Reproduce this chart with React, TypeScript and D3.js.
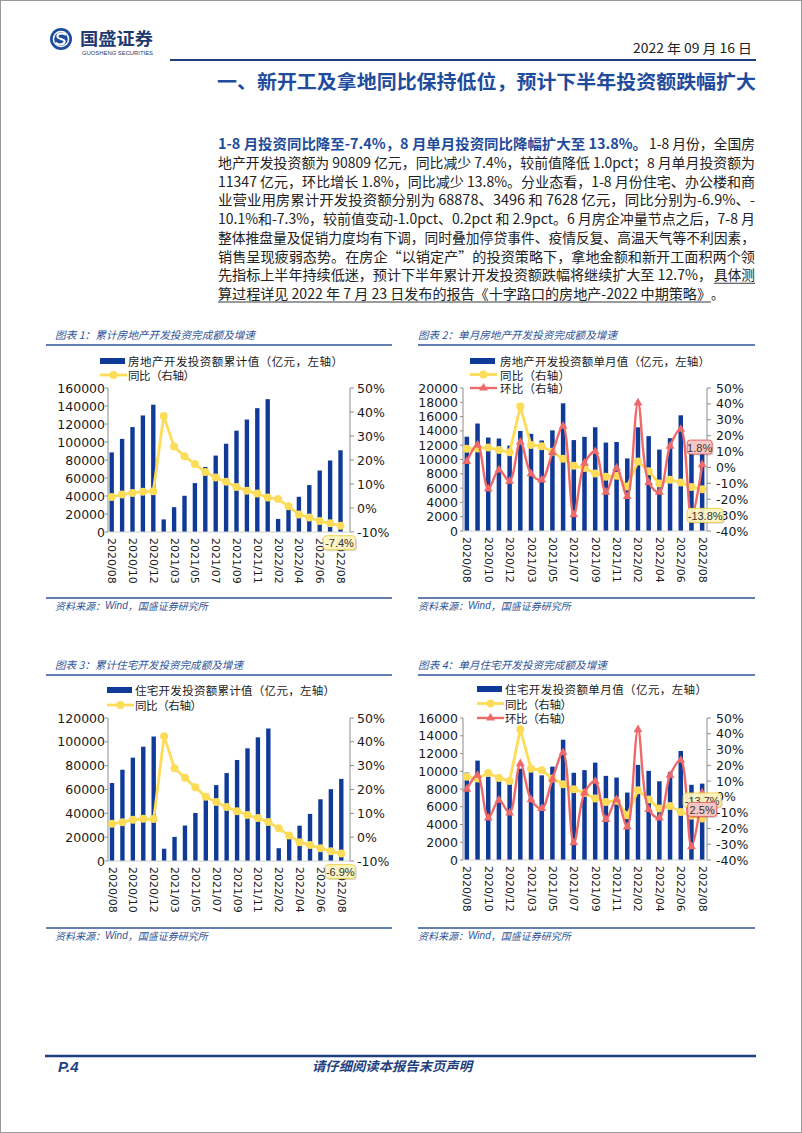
import React from 'react';
import * as d3 from 'd3';

// ---------------- DATA ----------------
const categories = [
  '2020/08', '2020/09', '2020/10', '2020/11', '2020/12',
  '2021/02', '2021/03', '2021/04', '2021/05', '2021/06', '2021/07', '2021/08',
  '2021/09', '2021/10', '2021/11', '2021/12',
  '2022/02', '2022/03', '2022/04', '2022/05', '2022/06', '2022/07', '2022/08',
];
const tickLabels = categories.filter((_, i) => i % 2 === 0);

// Chart 1: cumulative real estate development investment (亿元) & YoY (%)
const cumInvest = [88454, 103484, 116556, 129492, 141443, 13986, 27576, 40240, 54318, 72179, 84895, 98060, 112568, 124934, 137567, 147602, 14499, 27765, 39154, 52134, 68314, 79462, 90809];
const cumInvestYoY = [4.6, 5.6, 6.3, 6.8, 7.0, 38.3, 25.6, 21.6, 18.3, 15.0, 12.7, 10.9, 8.8, 7.2, 6.0, 4.4, 3.7, 0.7, -2.7, -4.0, -5.4, -6.4, -7.4];

// Chart 2: monthly real estate development investment, YoY and MoM (%)
const monthInvest = [13190, 15030, 13072, 12936, 11951, 13986, 13590, 12664, 14078, 17861, 12716, 13165, 14508, 12366, 12450, 10150, 14499, 13266, 11389, 12980, 16180, 11148, 11347];
const monthInvestYoY = [11.8, 12.0, 12.5, 11.0, 9.5, 38.3, 14.1, 13.4, 9.8, 5.4, 1.0, -0.4, -3.8, -5.9, -5.2, -12.0, 3.7, -2.4, -10.1, -7.8, -9.4, -12.3, -13.8];
const monthInvestMoM = [3.8, 14.2, -13.5, -1.6, -8.6, 16.0, -4.0, -7.8, 9.4, 26.0, -29.8, 2.7, 10.0, -15.6, -0.4, -18.3, 40.6, -9.4, -15.6, 13.4, 24.0, -31.1, 1.8];

// Chart 3: cumulative residential development investment & YoY
const cumResi = [65454, 76584, 86700, 95900, 104446, 10295, 20233, 29775, 40292, 53845, 63672, 73801, 84769, 94553, 103764, 111173, 10717, 20761, 29630, 39521, 51804, 60273, 68878];
const cumResiYoY = [5.6, 6.3, 7.3, 7.7, 7.6, 42.3, 28.9, 24.9, 20.9, 17.0, 14.8, 12.7, 10.9, 9.3, 8.0, 6.4, 3.7, 0.7, -2.1, -3.3, -4.6, -5.9, -6.9];

// Chart 4: monthly residential development investment, YoY and MoM
const monthResi = [9850, 11200, 9400, 9600, 8900, 10295, 9938, 9542, 10517, 13553, 9827, 10129, 10968, 9480, 9290, 7600, 10717, 10044, 8869, 9891, 12283, 8469, 8605];
const monthResiYoY = [12.7, 11.6, 15.2, 12.0, 10.1, 42.8, 17.9, 16.9, 11.6, 8.0, 4.9, 2.5, -1.1, -3.2, -2.5, -11.6, 4.2, -1.7, -7.4, -5.7, -9.5, -12.0, -13.7];
const monthResiMoM = [4.9, 13.7, -13.3, -2.1, -10.1, 21.1, -1.7, -7.4, 11.2, 28.1, -29.1, 2.5, 9.9, -14.3, -1.7, -19.0, 42.6, -8.0, -13.3, 13.7, 23.2, -31.6, 2.5];

// ---------------- STYLE ----------------
const BAR = '#0F3A97';
const YEL = '#FCDC58';
const RED = '#EE6A6A';
const NAVY = '#1F3F7F';
const TBLUE = '#2F5597';
const CN = '"Noto Sans CJK SC", "Noto Sans", sans-serif';
const NUM = '"DejaVu Sans", sans-serif';
const LAT = '"Liberation Sans", Arial, sans-serif';

type Callout = { series: 'yoy' | 'mom'; dx: number; dy: number; w: number };
type Cfg = {
  title: string; titleX: number; titleY: number; titleW: number;
  ruleX0: number; ruleX1: number; ruleTopY: number; ruleBotY: number;
  sourceX: number; sourceY: number;
  legendX: number; legendTextX: number; legendYs: number[]; legendLabels: string[]; legendWs: number[];
  plotTop: number; plotBottom: number; bandX0: number; bandX1: number;
  leftAxisX: number; rightAxisX: number; leftLabelX: number; rightLabelX: number;
  leftMax: number; leftStep: number; rightMin: number; rightMax: number;
  bars: number[]; yoy: number[]; mom?: number[];
  callouts: Callout[];
};

function Chart({ c }: { c: Cfg }) {
  const x = d3.scaleBand<string>().domain(categories).range([c.bandX0, c.bandX1]).paddingInner(0.58).paddingOuter(0.29);
  const cx = (i: number) => (x(categories[i]) as number) + x.bandwidth() / 2;
  const yL = d3.scaleLinear().domain([0, c.leftMax]).range([c.plotBottom, c.plotTop]);
  const yR = d3.scaleLinear().domain([c.rightMin, c.rightMax]).range([c.plotBottom, c.plotTop]);
  const straight = d3.line<number>().x((_, i) => cx(i)).y((d) => yR(d));
  const smooth = d3.line<number>().x((_, i) => cx(i)).y((d) => yR(d)).curve(d3.curveCatmullRom.alpha(0.5));
  const tri = d3.symbol().type(d3.symbolTriangle).size(34)() as string;
  const leftTicks = d3.range(0, c.leftMax + 1, c.leftStep);
  const rightTicks = d3.range(c.rightMin, c.rightMax + 1, 10);
  const last = categories.length - 1;

  return (
    <g>
      {/* title & rules */}
      <text x={c.titleX} y={c.titleY} fontFamily={CN} fontSize={10.5} fontStyle="italic" fill={TBLUE}
        textLength={c.titleW} lengthAdjust="spacingAndGlyphs" dominantBaseline="central">{c.title}</text>
      <line x1={c.ruleX0} x2={c.ruleX1} y1={c.ruleTopY} y2={c.ruleTopY} stroke={TBLUE} strokeWidth={1.5} />
      <line x1={c.ruleX0} x2={c.ruleX1} y1={c.ruleBotY} y2={c.ruleBotY} stroke={TBLUE} strokeWidth={1.5} />
      <text x={c.sourceX} y={c.sourceY} fontFamily={CN} fontSize={10} fontStyle="italic" fill={TBLUE}
        dominantBaseline="central">资料来源：<tspan fontFamily={LAT}>Wind</tspan>，国盛证券研究所</text>

      {/* bars */}
      {c.bars.map((v, i) => (
        <rect key={'b' + i} x={x(categories[i])} y={yL(v)} width={x.bandwidth()} height={yL(0) - yL(v)} fill={BAR} />
      ))}

      {/* axes */}
      <line x1={c.leftAxisX} x2={c.leftAxisX} y1={c.plotTop} y2={c.plotBottom} stroke="#8c8c8c" strokeWidth={1} />
      <line x1={c.rightAxisX} x2={c.rightAxisX} y1={c.plotTop} y2={c.plotBottom} stroke="#8c8c8c" strokeWidth={1} />
      <line x1={c.leftAxisX} x2={c.rightAxisX} y1={c.plotBottom} y2={c.plotBottom} stroke="#d0d0d0" strokeWidth={1} />
      {leftTicks.map((t) => (
        <g key={'lt' + t}>
          <line x1={c.leftAxisX - 3} x2={c.leftAxisX} y1={yL(t)} y2={yL(t)} stroke="#8c8c8c" />
          <text x={c.leftLabelX} y={yL(t)} textAnchor="end" dominantBaseline="central" fontFamily={NUM} fontSize={12.5} fill="#1a1a1a">{t}</text>
        </g>
      ))}
      {rightTicks.map((t) => (
        <g key={'rt' + t}>
          <line x1={c.rightAxisX} x2={c.rightAxisX + 4} y1={yR(t)} y2={yR(t)} stroke="#8c8c8c" />
          <text x={c.rightLabelX} y={yR(t)} dominantBaseline="central" fontFamily={NUM} fontSize={12.5} fill="#1a1a1a">{t}%</text>
        </g>
      ))}
      {tickLabels.map((lab) => {
        const i = categories.indexOf(lab);
        const px = cx(i);
        const py = c.plotBottom + 6;
        return (
          <text key={'xl' + lab} x={px} y={py} transform={`rotate(90 ${px} ${py})`} dominantBaseline="central"
            fontFamily={NUM} fontSize={11} fill="#1a1a1a">{lab}</text>
        );
      })}

      {/* yoy line */}
      <path d={straight(c.yoy) as string} fill="none" stroke={YEL} strokeWidth={2.8} strokeLinejoin="round" />
      {c.yoy.map((v, i) => <circle key={'y' + i} cx={cx(i)} cy={yR(v)} r={4} fill={YEL} />)}

      {/* mom line */}
      {c.mom && <path d={smooth(c.mom) as string} fill="none" stroke={RED} strokeWidth={2.4} strokeLinejoin="round" />}
      {c.mom && c.mom.map((v, i) => (
        <path key={'m' + i} d={tri} transform={`translate(${cx(i)},${yR(v)})`} fill={RED} />
      ))}

      {/* legend */}
      {c.legendLabels.map((lab, k) => {
        const ly = c.legendYs[k];
        return (
          <g key={'lg' + k}>
            {k === 0 && <rect x={c.legendX} y={ly - 3} width={25} height={6} fill={BAR} />}
            {k === 1 && (
              <g>
                <line x1={c.legendX} x2={c.legendX + 27} y1={ly} y2={ly} stroke={YEL} strokeWidth={2.8} />
                <circle cx={c.legendX + 13.5} cy={ly} r={4} fill={YEL} />
              </g>
            )}
            {k === 2 && (
              <g>
                <line x1={c.legendX} x2={c.legendX + 27} y1={ly} y2={ly} stroke={RED} strokeWidth={2.4} />
                <path d={tri} transform={`translate(${c.legendX + 13.5},${ly})`} fill={RED} />
              </g>
            )}
            <text x={c.legendTextX} y={ly} dominantBaseline="central" fontFamily={CN} fontSize={11.5} fill="#1a1a1a"
              textLength={c.legendWs[k]} lengthAdjust="spacing">{lab}</text>
          </g>
        );
      })}

      {/* callouts */}
      {c.callouts.map((co, k) => {
        const series = co.series === 'yoy' ? c.yoy : (c.mom as number[]);
        const v = series[last];
        const bx = cx(last) + co.dx;
        const by = yR(v) + co.dy;
        const yel = co.series === 'yoy';
        return (
          <g key={'co' + k}>
            <rect x={bx - co.w / 2 + 1.5} y={by - 7 + 1.5} width={co.w} height={14} rx={3} fill="#000" opacity={0.15} />
            <rect x={bx - co.w / 2} y={by - 7} width={co.w} height={14} rx={3}
              fill={yel ? '#FFF7C4' : '#F8C8C6'} fillOpacity={yel ? 0.92 : 1} stroke={yel ? '#F0D24A' : '#E46A6A'} strokeWidth={1} />
            <text x={bx} y={by + 0.5} textAnchor="middle" dominantBaseline="central" fontFamily={LAT} fontSize={11} fill="#333">
              {`${v.toFixed(1)}%`}
            </text>
          </g>
        );
      })}
    </g>
  );
}

const chart1: Cfg = {
  title: '图表 1：累计房地产开发投资完成额及增速', titleX: 55, titleY: 334, titleW: 200,
  ruleX0: 46, ruleX1: 392, ruleTopY: 345, ruleBotY: 598, sourceX: 55, sourceY: 605,
  legendX: 100, legendTextX: 128, legendYs: [361, 375],
  legendLabels: ['房地产开发投资额累计值（亿元，左轴）', '同比（右轴）'], legendWs: [215, 67],
  plotTop: 388, plotBottom: 532, bandX0: 106.5, bandX1: 345.7,
  leftAxisX: 108, rightAxisX: 350, leftLabelX: 105, rightLabelX: 357,
  leftMax: 160000, leftStep: 20000, rightMin: -10, rightMax: 50,
  bars: cumInvest, yoy: cumInvestYoY,
  callouts: [{ series: 'yoy', dx: -1, dy: 17, w: 32 }],
};

const chart2: Cfg = {
  title: '图表 2：单月房地产开发投资完成额及增速', titleX: 418, titleY: 334, titleW: 199,
  ruleX0: 418, ruleX1: 755, ruleTopY: 345, ruleBotY: 598, sourceX: 418, sourceY: 605,
  legendX: 470, legendTextX: 500, legendYs: [361, 374.5, 388],
  legendLabels: ['房地产开发投资额单月值（亿元，左轴）', '同比（右轴）', '环比（右轴）'], legendWs: [210, 70, 70],
  plotTop: 388, plotBottom: 531, bandX0: 461.5, bandX1: 707.5,
  leftAxisX: 463, rightAxisX: 707, leftLabelX: 458, rightLabelX: 716,
  leftMax: 20000, leftStep: 2000, rightMin: -40, rightMax: 50,
  bars: monthInvest, yoy: monthInvestYoY, mom: monthInvestMoM,
  callouts: [
    { series: 'yoy', dx: 3, dy: 26, w: 36 },
    { series: 'mom', dx: -2.5, dy: -17.5, w: 25 },
  ],
};

const chart3: Cfg = {
  title: '图表 3：累计住宅开发投资完成额及增速', titleX: 55, titleY: 664, titleW: 188,
  ruleX0: 46, ruleX1: 392, ruleTopY: 675, ruleBotY: 928, sourceX: 55, sourceY: 935,
  legendX: 107, legendTextX: 135, legendYs: [690, 705],
  legendLabels: ['住宅开发投资额累计值（亿元，左轴）', '同比（右轴）'], legendWs: [200, 67],
  plotTop: 718, plotBottom: 861, bandX0: 106.8, bandX1: 346.5,
  leftAxisX: 108, rightAxisX: 350, leftLabelX: 105, rightLabelX: 357,
  leftMax: 120000, leftStep: 20000, rightMin: -10, rightMax: 50,
  bars: cumResi, yoy: cumResiYoY,
  callouts: [{ series: 'yoy', dx: -1, dy: 18, w: 30 }],
};

const chart4: Cfg = {
  title: '图表 4：单月住宅开发投资完成额及增速', titleX: 418, titleY: 664, titleW: 189,
  ruleX0: 418, ruleX1: 755, ruleTopY: 675, ruleBotY: 928, sourceX: 418, sourceY: 935,
  legendX: 477, legendTextX: 505, legendYs: [689, 703.5, 718],
  legendLabels: ['住宅开发投资额单月值（亿元，左轴）', '同比（右轴）', '环比（右轴）'], legendWs: [202, 67, 67],
  plotTop: 718, plotBottom: 860, bandX0: 461.5, bandX1: 707.5,
  leftAxisX: 463, rightAxisX: 707, leftLabelX: 458, rightLabelX: 716,
  leftMax: 16000, leftStep: 2000, rightMin: -40, rightMax: 50,
  bars: monthResi, yoy: monthResiYoY, mom: monthResiMoM,
  callouts: [
    { series: 'yoy', dx: 0, dy: -18.5, w: 38 },
    { series: 'mom', dx: 0, dy: 16.5, w: 29 },
  ],
};

// ---------------- BODY TEXT ----------------
type Seg = { t: string; x0: number; x1: number; bold?: boolean; ul?: boolean };
const bodyLines: Seg[][] = [
  [
    { t: '1-8 月投资同比降至-7.4%，8 月单月投资同比降幅扩大至 13.8%。', x0: 218, x1: 647, bold: true },
    { t: '1-8 月份，全国房', x0: 649, x1: 755 },
  ],
  [{ t: '地产开发投资额为 90809 亿元，同比减少 7.4%，较前值降低 1.0pct；8 月单月投资额为', x0: 218, x1: 755 }],
  [{ t: '11347 亿元，环比增长 1.8%，同比减少 13.8%。分业态看，1-8 月份住宅、办公楼和商', x0: 218, x1: 755 }],
  [{ t: '业营业用房累计开发投资额分别为 68878、3496 和 7628 亿元，同比分别为-6.9%、-', x0: 218, x1: 755 }],
  [{ t: '10.1%和-7.3%，较前值变动-1.0pct、0.2pct 和 2.9pct。6 月房企冲量节点之后，7-8 月', x0: 218, x1: 755 }],
  [{ t: '整体推盘量及促销力度均有下调，同时叠加停贷事件、疫情反复、高温天气等不利因素，', x0: 218, x1: 755 }],
  [{ t: '销售呈现疲弱态势。在房企“以销定产”的投资策略下，拿地金额和新开工面积两个领', x0: 218, x1: 755 }],
  [
    { t: '先指标上半年持续低迷，预计下半年累计开发投资额跌幅将继续扩大至 12.7%，', x0: 218, x1: 712 },
    { t: '具体测', x0: 714, x1: 755, ul: true },
  ],
  [
    { t: '算过程详见 2022 年 7 月 23 日发布的报告《十字路口的房地产-2022 中期策略》', x0: 218, x1: 711, ul: true },
    { t: '。', x0: 711, x1: 724 },
  ],
];

function Body() {
  return (
    <g>
      {bodyLines.map((segs, li) => {
        const by = 149 + li * 18.75;
        return segs.map((s, si) => (
          <g key={`bl${li}-${si}`}>
            <text x={s.x0} y={by} fontFamily={CN} fontSize={14} fontWeight={s.bold ? 700 : 400}
              fill={s.bold ? '#1F4C9C' : '#222'} textLength={s.x1 - s.x0} lengthAdjust="spacingAndGlyphs">{s.t}</text>
            {s.ul && <line x1={s.x0} x2={s.x1} y1={by + 3} y2={by + 3} stroke="#222" strokeWidth={0.9} />}
          </g>
        ));
      })}
    </g>
  );
}

function Header() {
  return (
    <g>
      {/* logo */}
      <circle cx={61} cy={39} r={11} fill="#1E4DA0" />
      <circle cx={61} cy={39} r={8.3} fill="#fff" />
      <circle cx={61} cy={39} r={6.8} fill="#1E4DA0" />
      <path d="M65.5 34.5 C62 32.5 56.5 33.5 57.5 37 C58.3 39.6 64.5 38.6 64.6 41.5 C64.7 44.6 59 45.3 56.4 43.2"
        fill="none" stroke="#fff" strokeWidth={2.1} strokeLinecap="round" />
      <text x={80} y={45} fontFamily={CN} fontWeight={700} fontSize={17} fill="#1E3A70" textLength={73} lengthAdjust="spacingAndGlyphs">国盛证券</text>
      <text x={82} y={54.5} fontFamily={LAT} fontSize={4.6} fill="#1E3A70" textLength={71} lengthAdjust="spacingAndGlyphs">GUOSHENG SECURITIES</text>
      <text x={633} y={53} fontFamily={CN} fontSize={13} fill="#222" textLength={119} lengthAdjust="spacingAndGlyphs">2022 年 09 月 16 日</text>
      <line x1={170} x2={756} y1={60} y2={60} stroke={NAVY} strokeWidth={2} />
      <text x={217} y={89} fontFamily={CN} fontWeight={700} fontSize={19} fill="#1F4C9C" textLength={539} lengthAdjust="spacingAndGlyphs">
        一、新开工及拿地同比保持低位，预计下半年投资额跌幅扩大
      </text>
    </g>
  );
}

function Footer() {
  return (
    <g>
      <line x1={45} x2={756} y1={1056} y2={1056} stroke={NAVY} strokeWidth={2.5} />
      <text x={58} y={1072} fontFamily={LAT} fontWeight={700} fontStyle="italic" fontSize={15} fill={NAVY}>P.4</text>
      <text x={312} y={1071} fontFamily={CN} fontWeight={700} fontStyle="italic" fontSize={13} fill={NAVY}
        textLength={160} lengthAdjust="spacingAndGlyphs">请仔细阅读本报告末页声明</text>
    </g>
  );
}

export default function App() {
  return (
    <svg width={802} height={1133} viewBox="0 0 802 1133" style={{ position: 'absolute', left: 0, top: 0, background: '#fff' }}>
      <rect x={0} y={0} width={802} height={1133} fill="#fff" />
      <rect x={0.5} y={0.5} width={801} height={1132} fill="none" stroke="#9a9a9a" strokeWidth={1} />
      <Header />
      <Body />
      <Chart c={chart1} />
      <Chart c={chart2} />
      <Chart c={chart3} />
      <Chart c={chart4} />
      <Footer />
    </svg>
  );
}
